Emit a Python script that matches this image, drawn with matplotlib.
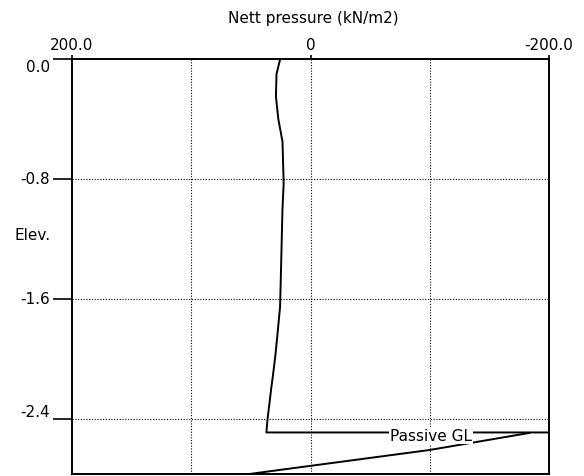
import matplotlib
matplotlib.use("Agg")
import matplotlib.pyplot as plt

# net pressure profile (kN/m2) vs elevation
elev = [0.0, -0.10, -0.25, -0.40, -0.55, -0.83, -1.00, -1.33, -1.65, -1.82,
        -1.98, -2.11, -2.20, -2.30, -2.40, -2.49, -2.49]
nett = [25.4, 28.5, 29.0, 27.0, 23.5, 22.5, 23.5, 24.5, 25.5, 27.5,
        29.5, 31.5, 33.0, 34.5, 36.0, 37.0, -200.0]

# passive side below passive GL
pass_elev = [-2.493, -2.607, -2.773]
pass_nett = [-183.6, -99.8, 57.0]

passive_gl = -2.49
xticks = [200, 0, -200]
xticklabels = ["200.0", "0", "-200.0"]
yticks = [0.0, -0.8, -1.6, -2.4]
yticklabels = ["0.0", "-0.8", "-1.6", "-2.4"]
grid_x = [100, 0, -100]

plt.rcParams['font.family'] = ['DejaVu Sans']
plt.rcParams['font.size'] = 11

fig = plt.figure(figsize=(5.84, 4.77), dpi=100)
ax = fig.add_axes([72 / 584, 1 - 475 / 477, 477 / 584, 415 / 477])

ax.set_xlim(200, -200)
ax.set_ylim(-2.767, 0)

# dotted grid
for gx in grid_x:
    ax.axvline(gx, color="black", lw=0.8, ls=(0, (1, 1.5)), zorder=1)
for gy in yticks[1:]:
    ax.axhline(gy, color="black", lw=0.8, ls=(0, (1, 1.5)), zorder=1)

ax.plot(nett, elev, color="black", lw=1.4, zorder=3)
ax.plot(pass_nett, pass_elev, color="black", lw=1.4, zorder=3)

ax.text(-101, passive_gl - 0.02, "Passive GL", ha="center", va="center",
        bbox=dict(facecolor="white", edgecolor="none", pad=1.0), zorder=4)

ax.xaxis.tick_top()
ax.set_xticks(xticks)
ax.set_xticklabels(xticklabels)
ax.tick_params(axis="x", direction="out", length=3, width=1.2, pad=2)
ax.set_yticks(yticks)
ax.set_yticklabels(yticklabels)
ax.tick_params(axis="y", direction="out", length=14, width=1.2, pad=2)
vas = ["top", "center", "center", "bottom"]
for lab, va in zip(ax.get_yticklabels(), vas):
    lab.set_va(va)

for s in ax.spines.values():
    s.set_linewidth(1.4)

fig.text(313 / 584, 1 - 18 / 477, "Nett pressure (kN/m2)", ha="center", va="center")
fig.text(14 / 584, 1 - 236 / 477, "Elev.", ha="left", va="center")

fig.savefig("out.png", dpi=100)
